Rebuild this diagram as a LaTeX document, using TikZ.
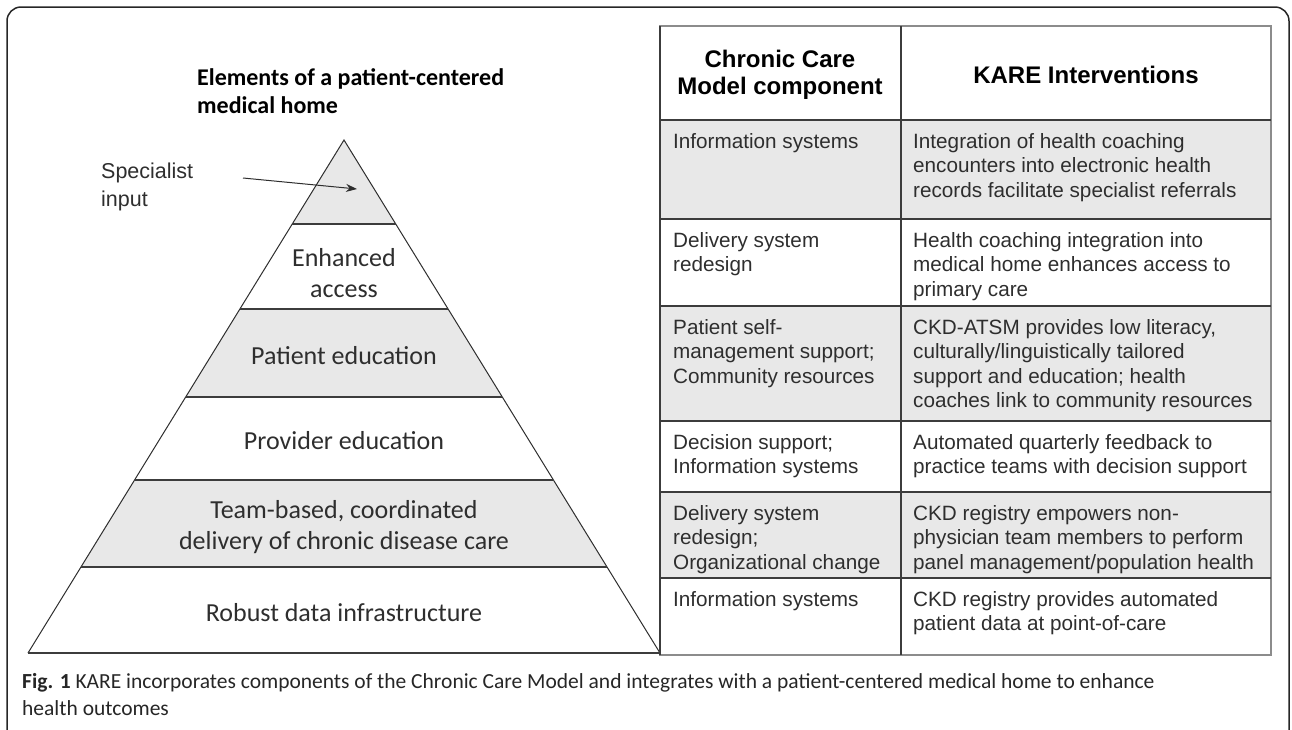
\documentclass[tikz,border=0pt]{standalone}
\usepackage{fontspec}
\setmainfont{Liberation Sans}
\newfontfamily\pyrfont{Carlito}
\newfontfamily\capfont{Carlito}
\usetikzlibrary{calc,arrows.meta}
\definecolor{bandgrey}{HTML}{E8E8E8}
\definecolor{rulegrey}{HTML}{3C3C3C}
\definecolor{inkgrey}{HTML}{2E2E2E}
\tikzset{
  bandline/.style={line width=1.8pt, draw=rulegrey},
  pyrlabel/.style={font=\pyrfont\fontsize{26}{31}\selectfont, align=center, text=inkgrey, inner sep=0pt},
  headtext/.style={font=\bfseries\fontsize{24}{27}\selectfont, align=center, text=black, inner sep=0pt},
  celltext/.style={anchor=north west, inner sep=0pt, align=left, font=\fontsize{20.7}{24.5}\selectfont, text=inkgrey},
}

\begin{document}
\begin{tikzpicture}[x=1pt,y=-1pt]
				\useasboundingbox (0,0) rectangle (1292,729);
				\clip (0,0) rectangle (1292,729);
				\draw[line width=1.5pt, draw=black!85, rounded corners=14pt] (7,7) rectangle (1289,745);
				
				% pyramid
				\coordinate (apex) at (344,140);
				\coordinate (bl) at (28,653);
				\coordinate (br) at (660,653);
				\fill[bandgrey] (apex) -- ($(apex)!0.1637!(br)$) -- ($(apex)!0.1637!(bl)$) -- cycle;
				\fill[bandgrey] ($(apex)!0.3294!(bl)$) -- ($(apex)!0.3294!(br)$) -- ($(apex)!0.5010!(br)$) -- ($(apex)!0.5010!(bl)$) -- cycle;
				\fill[bandgrey] ($(apex)!0.6628!(bl)$) -- ($(apex)!0.6628!(br)$) -- ($(apex)!0.8324!(br)$) -- ($(apex)!0.8324!(bl)$) -- cycle;
				\draw[line width=1pt, draw=inkgrey] (bl) -- (apex) -- (br);
				\foreach \t in {0.1637,0.3294,0.5010,0.6628,0.8324,1}
					\draw[bandline] ($(apex)!\t!(bl)$) -- ($(apex)!\t!(br)$);
				
				\node[anchor=base west, inner sep=0pt, align=left, font=\pyrfont\bfseries\fontsize{24}{28}\selectfont] (pyrtitle) at (197,113) {Elements of a patient-centered\\medical home};
				\node[anchor=base west, inner sep=0pt, align=left, font=\fontsize{21.5}{28}\selectfont, text=inkgrey] (spec) at (101,206) {Specialist\\input};
				\coordinate (specfrom) at (243,178);
				\coordinate (spectip) at (357,189);
				\draw[line width=1pt, draw=inkgrey, -{Stealth[length=11pt,width=8pt]}] (specfrom) -- (spectip);
				
				\node[pyrlabel] (enhanced) at (344,273) {Enhanced\\access};
				\node[pyrlabel] (pated) at (344,356) {Patient education};
				\node[pyrlabel] (proved) at (344,441) {Provider education};
				\node[pyrlabel] (team) at (344,527) {Team-based, coordinated\\delivery of chronic disease care};
				\node[pyrlabel] (robust) at (344,613) {Robust data infrastructure};
				
				% table
				\fill[bandgrey] (660,120) rectangle (1271,219);
				\fill[bandgrey] (660,306) rectangle (1271,421);
				\fill[bandgrey] (660,492) rectangle (1271,578);
				\draw[line width=2pt, draw=black!45] (660,26) rectangle (1271,655);
				\draw[line width=1.2pt, draw=rulegrey] (660,26) -- (660,655);
				\foreach \y in {120,219,306,421,492,578}
					\draw[bandline] (660,\y) -- (1271,\y);
				\draw[line width=1.5pt, draw=rulegrey] (901,26) -- (901,655);
				
				\node[headtext] (ccmhead) at (780,75) {Chronic Care\\Model component};
				\node[headtext] (karehead) at (1086,75) {KARE Interventions};
				
				\node[celltext] (ccma) at (673,133) {Information systems};
				\node[celltext] (karea) at (913,133) {Integration of health coaching\\encounters into electronic health\\records facilitate specialist referrals};
				\node[celltext] (ccmb) at (673,232) {Delivery system\\redesign};
				\node[celltext] (kareb) at (913,232) {Health coaching integration into\\medical home enhances access to\\primary care};
				\node[celltext] (ccmc) at (673,319) {Patient self-\\management support;\\Community resources};
				\node[celltext] (karec) at (913,319) {CKD-ATSM provides low literacy,\\culturally/linguistically tailored\\support and education; health\\coaches link to community resources};
				\node[celltext] (ccmd) at (673,434) {Decision support;\\Information systems};
				\node[celltext] (kared) at (913,434) {Automated quarterly feedback to\\practice teams with decision support};
				\node[celltext] (ccme) at (673,505) {Delivery system\\redesign;\\Organizational change};
				\node[celltext] (karee) at (913,505) {CKD registry empowers non-\\physician team members to perform\\panel management/population health};
				\node[celltext] (ccmf) at (673,591) {Information systems};
				\node[celltext] (karef) at (913,591) {CKD registry provides automated\\patient data at point-of-care};
				
				% caption
				\node[anchor=base west, inner sep=0pt, align=left, font=\capfont\fontsize{21.5}{27}\selectfont, text=black!85] (caption) at (22,715) {\textbf{Fig. 1} KARE incorporates components of the Chronic Care Model and integrates with a patient-centered medical home to enhance\\health outcomes};
			\end{tikzpicture}
\end{document}
